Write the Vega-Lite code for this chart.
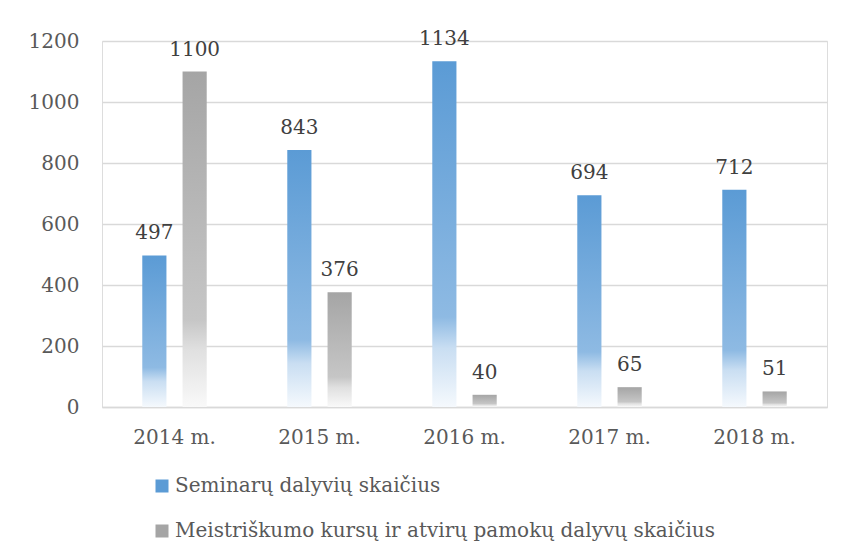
{
  "$schema": "https://vega.github.io/schema/vega-lite/v6.json",
  "width": 725,
  "height": 366,
  "autosize": "none",
  "padding": {"left": 102, "top": 41, "right": 14, "bottom": 153},
  "background": "white",
  "data": {
    "values": [
      {"year": "2014 m.", "series": "Seminarų dalyvių skaičius", "value": 497},
      {"year": "2014 m.", "series": "Meistriškumo kursų ir atvirų pamokų dalyvų skaičius", "value": 1100},
      {"year": "2015 m.", "series": "Seminarų dalyvių skaičius", "value": 843},
      {"year": "2015 m.", "series": "Meistriškumo kursų ir atvirų pamokų dalyvų skaičius", "value": 376},
      {"year": "2016 m.", "series": "Seminarų dalyvių skaičius", "value": 1134},
      {"year": "2016 m.", "series": "Meistriškumo kursų ir atvirų pamokų dalyvų skaičius", "value": 40},
      {"year": "2017 m.", "series": "Seminarų dalyvių skaičius", "value": 694},
      {"year": "2017 m.", "series": "Meistriškumo kursų ir atvirų pamokų dalyvų skaičius", "value": 65},
      {"year": "2018 m.", "series": "Seminarų dalyvių skaičius", "value": 712},
      {"year": "2018 m.", "series": "Meistriškumo kursų ir atvirų pamokų dalyvų skaičius", "value": 51}
    ]
  },
  "encoding": {
    "x": {
      "field": "year", "type": "nominal", "sort": null,
      "scale": {"paddingInner": 0, "paddingOuter": 0},
      "axis": {
        "title": null, "labelAngle": 0, "ticks": false, "domain": true,
        "domainColor": "#d9d9d9", "domainWidth": 1.5,
        "labelFont": "DejaVu Serif", "labelFontSize": 20, "labelColor": "#595959",
        "labelPadding": 20
      }
    },
    "xOffset": {
      "field": "series", "type": "nominal",
      "scale": {"domain": ["Seminarų dalyvių skaičius", "Meistriškumo kursų ir atvirų pamokų dalyvų skaičius"], "paddingInner": 0.4, "paddingOuter": 1.0125}
    },
    "y": {
      "field": "value", "type": "quantitative",
      "scale": {"domain": [0, 1200], "nice": false},
      "axis": {
        "title": null, "values": [0, 200, 400, 600, 800, 1000, 1200], "format": "d",
        "domain": false, "ticks": false, "gridColor": "#d9d9d9", "gridWidth": 1.5,
        "labelFont": "DejaVu Serif", "labelFontSize": 20, "labelColor": "#595959",
        "labelPadding": 23
      }
    }
  },
  "layer": [
    {
      "transform": [{"filter": "datum.series === 'Seminarų dalyvių skaičius'"}],
      "mark": {
        "type": "bar",
        "color": {"gradient": "linear", "x1": 0, "y1": 0, "x2": 0, "y2": 1,
          "stops": [
            {"offset": 0, "color": "#5b9bd5"},
            {"offset": 0.74, "color": "#8ebae3"},
            {"offset": 0.83, "color": "#c9def2"},
            {"offset": 1, "color": "#f5f9fd"}
          ]}
      }
    },
    {
      "transform": [{"filter": "datum.series !== 'Seminarų dalyvių skaičius'"}],
      "mark": {
        "type": "bar",
        "color": {"gradient": "linear", "x1": 0, "y1": 0, "x2": 0, "y2": 1,
          "stops": [
            {"offset": 0, "color": "#a5a5a5"},
            {"offset": 0.74, "color": "#c6c6c6"},
            {"offset": 0.83, "color": "#e0e0e0"},
            {"offset": 1, "color": "#f9f9f9"}
          ]}
      }
    },
    {
      "mark": {"type": "bar"},
      "encoding": {
        "y": {"datum": 0, "type": "quantitative"},
        "color": {
          "field": "series", "type": "nominal",
          "scale": {
            "domain": ["Seminarų dalyvių skaičius", "Meistriškumo kursų ir atvirų pamokų dalyvų skaičius"],
            "range": ["#5b9bd5", "#a5a5a5"]
          },
          "legend": {
            "title": null, "orient": "none", "legendX": 50, "legendY": 435,
            "direction": "vertical", "symbolType": "square", "symbolSize": 169,
            "symbolStrokeWidth": 0, "rowPadding": 25, "labelOffset": 3,
            "labelFont": "DejaVu Serif", "labelFontSize": 20, "labelColor": "#595959",
            "labelLimit": 800
          }
        }
      }
    },
    {
      "mark": {"type": "text", "baseline": "alphabetic", "dy": -16, "font": "DejaVu Serif", "fontSize": 20, "color": "#404040"},
      "encoding": {
        "text": {"field": "value", "type": "quantitative"}
      }
    }
  ]
}
